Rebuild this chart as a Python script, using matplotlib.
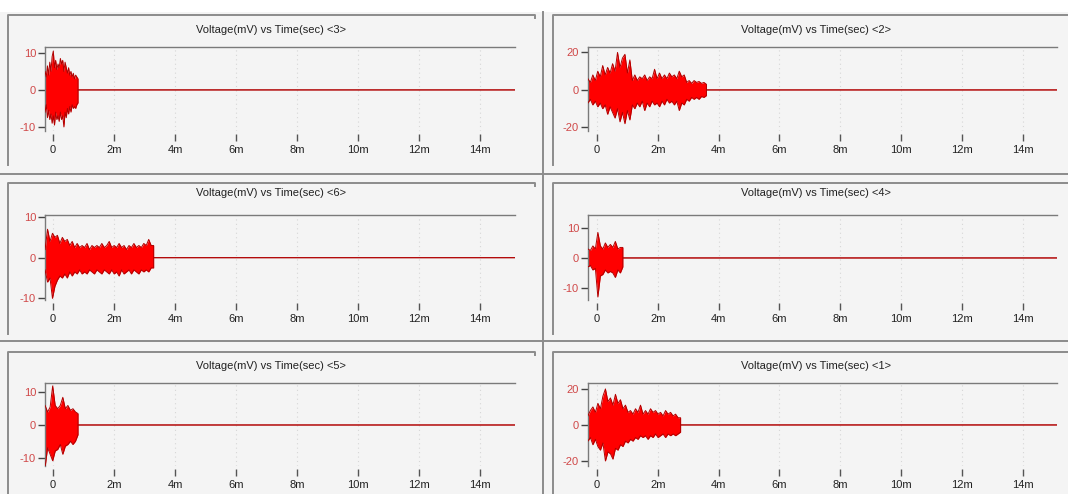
import numpy as np
import matplotlib
matplotlib.use("Agg")
import matplotlib.pyplot as plt

plt.rcParams['font.family'] = ['Liberation Sans', 'DejaVu Sans']
plt.rcParams['axes.unicode_minus'] = False

# ---------------- data ----------------
titles = ["Voltage(mV) vs Time(sec) <3>", "Voltage(mV) vs Time(sec) <2>",
          "Voltage(mV) vs Time(sec) <6>", "Voltage(mV) vs Time(sec) <4>",
          "Voltage(mV) vs Time(sec) <5>", "Voltage(mV) vs Time(sec) <1>"]

x_ticks = [0, 2, 4, 6, 8, 10, 12, 14]                 # ms
x_tick_labels = ["0", "2m", "4m", "6m", "8m", "10m", "12m", "14m"]
record_end = 15.2                                      # ms, trace continues at 0

# burst start / end (ms) and upper / lower envelope samples (mV)
burst_3 = (-0.26, 0.82)
up_3 = [5, 3.5, 6.5, 4, 7.5, 5, 9, 10.5, 6, 8, 5.5, 7, 6, 8.5, 7, 8, 5, 7.5, 6, 4.5,
        6, 4, 5, 3.5, 4.5, 3, 4, 3.5, 3]
lo_3 = [-6, -4, -7.5, -5.5, -8, -6.5, -9, -7, -9.5, -6, -8, -7, -8.5, -6, -8, -7, -10, -6, -7.5, -5,
        -6.5, -4.5, -6, -4, -5, -4.5, -5, -4, -3.5]

burst_2 = (-0.30, 3.60)
up_2 = [6, 4, 8, 5, 10, 7, 13, 8, 12, 9, 14, 10, 20, 12, 17, 19, 9, 16, 5, 8,
        5, 7, 6, 8, 5, 7, 6, 11, 6, 9, 6, 8, 6, 9, 7, 8, 6, 10, 7, 8,
        4, 5, 3.5, 5, 4, 4.5, 3.5, 4, 3]
lo_2 = [-7, -5, -8, -6, -9, -7, -10, -8, -13, -9, -12, -15, -10, -17, -12, -18, -11, -16, -8, -10,
        -7, -9, -6, -11, -7, -9, -6, -8, -7, -9, -6, -8, -5, -7, -6, -8, -6, -11, -7, -8,
        -5, -6, -4, -5, -4, -5, -3.5, -4, -3]

burst_6 = (-0.26, 3.30)
up_6 = [2, 7, 4, 6, 5, 5.5, 3.5, 5, 4, 4.5, 3, 4, 2.5, 3.5, 2.5, 3, 2.5, 3.5, 2, 3,
        2.5, 3, 2.5, 3.5, 2.5, 3, 4, 2.5, 3, 2.5, 3.5, 2.5, 3, 2, 3, 2.5, 3.5, 2.5, 3, 2.5,
        3.5, 3, 4.5, 3, 3]
lo_6 = [-3, -6, -5, -10, -7, -5.5, -4.5, -5, -4, -5, -3.5, -4.5, -3.5, -4, -3, -4, -3.5, -4, -3, -3.5,
        -4, -3, -3.5, -4, -3, -3.5, -4, -3, -4, -3.5, -4.5, -3, -4, -3.5, -3, -4, -3, -3.5, -4, -3,
        -3.5, -3, -3.5, -2.5, -2.5]

burst_4 = (-0.30, 0.85)
up_4 = [3, 2.5, 4, 3, 8.5, 4, 3, 5, 3.5, 4.5, 3.5, 5.5, 3, 3.5, 3.5]
lo_4 = [-3, -2.5, -4, -3.5, -13, -6, -5.5, -4, -5, -4.5, -5, -6.5, -4, -5, -3]

burst_5 = (-0.26, 0.82)
up_5 = [6, 4, 5.5, 12, 6, 5, 6, 8.5, 5, 6, 4.5, 5, 4, 3.5]
lo_5 = [-13, -7, -9, -11, -8, -7.5, -6, -9, -6.5, -6, -5, -6, -5, -3]

burst_1 = (-0.30, 2.75)
up_1 = [5, 8, 10, 7, 12, 9, 16, 20, 13, 15, 11, 17, 12, 14, 9, 11, 7, 8, 6, 9,
        7, 11, 6, 8, 6, 9, 7, 8, 6, 7, 5, 8, 6, 7, 5, 6, 4, 4]
lo_1 = [-9, -7, -11, -8, -12, -14, -10, -20, -15, -16, -19, -13, -14, -11, -12, -9, -10, -8, -9, -7,
        -8, -6, -7, -6, -8, -6, -7, -5, -7, -6, -5, -7, -5, -6, -5, -6, -5, -4]

y_ticks_10 = [10, 0, -10]
y_labels_10 = ["10", "0", "-10"]
y_ticks_20 = [20, 0, -20]
y_labels_20 = ["20", "0", "-20"]

# ---------------- layout (pixels) ----------------
W, H = 1068, 494
fig = plt.figure(figsize=(W / 100, H / 100), dpi=100)
fig.patch.set_facecolor('#f4f4f4')

bg = fig.add_axes([0, 0, 1, 1], zorder=0)
bg.set_xlim(0, W)
bg.set_ylim(H, 0)
bg.axis('off')
bg.axhspan(0, 12, color='white', lw=0)

frame_c = '#8c8c8c'
lw_frame = 1.4
# dividers
bg.plot([543, 543], [12, H], color=frame_c, lw=lw_frame)
bg.plot([0, W], [174, 174], color=frame_c, lw=lw_frame)
bg.plot([0, W], [341, 341], color=frame_c, lw=lw_frame)
# panel frames
row_frames = [(15, 165), (183, 334), (352, H)]
for top, bot in row_frames:
    bg.plot([8, 8, 535, 535], [bot, top, top, top + 3], color=frame_c, lw=lw_frame)
    bg.plot([553, 553, W], [bot, top, top], color=frame_c, lw=lw_frame)

col_px = [(45, 515, 53, 30.5), (588, 1057, 597, 30.4)]     # left, right, x0 px, px per ms
row_px = [(47, 131), (215, 300), (383, 466)]
title_y = [30, 193, 366]
title_x = [271, 816]

panels = [
    (burst_3, up_3, lo_3, (-11.1, 11.6), y_ticks_10, y_labels_10),
    (burst_2, up_2, lo_2, (-21.9, 22.9), y_ticks_20, y_labels_20),
    (burst_6, up_6, lo_6, (-10.4, 10.5), y_ticks_10, y_labels_10),
    (burst_4, up_4, lo_4, (-14.0, 14.3), y_ticks_10, y_labels_10),
    (burst_5, up_5, lo_5, (-12.6, 12.9), y_ticks_10, y_labels_10),
    (burst_1, up_1, lo_1, (-22.8, 23.3), y_ticks_20, y_labels_20),
]

spine_c = '#7a7a7a'
for i, (burst, up, lo, ylim, yt, yl) in enumerate(panels):
    r, c = divmod(i, 2)
    left, right, x0, ppm = col_px[c]
    top, bot = row_px[r]
    ax = fig.add_axes([left / W, 1 - bot / H, (right - left) / W, (bot - top) / H], zorder=2)
    ax.set_facecolor('none')
    ax.set_xlim((left - x0) / ppm, (right - x0) / ppm)
    ax.set_ylim(*ylim)

    for xt in x_ticks:
        ax.axvline(xt, color='#d6d6d6', lw=0.8, ls=(0, (1, 3)), zorder=0)

    t = np.linspace(burst[0], burst[1], len(up))
    t_full = np.concatenate([t, [burst[1], record_end]])
    up_full = np.concatenate([up, [0, 0]])
    lo_full = np.concatenate([lo, [0, 0]])
    ax.fill_between(t_full, lo_full, up_full, color='#ff0000', lw=0, zorder=2)
    ax.plot(t_full, up_full, color='#b00000', lw=0.7, zorder=3)
    ax.plot(t_full, lo_full, color='#b00000', lw=0.7, zorder=3)

    for s in ['right', 'bottom']:
        ax.spines[s].set_visible(False)
    for s in ['left', 'top']:
        ax.spines[s].set_color(spine_c)
        ax.spines[s].set_linewidth(1.0)
    ax.spines['bottom'].set_position(('outward', 2))

    ax.set_xticks(x_ticks)
    ax.set_xticklabels(x_tick_labels)
    ax.set_yticks(yt)
    ax.set_yticklabels(yl)
    ax.tick_params(axis='x', direction='out', length=5, width=1, color='#555555',
                   labelsize=8, pad=3, labelcolor='#222222')
    ax.tick_params(axis='y', direction='out', length=5, width=1, color='#444444',
                   labelsize=8, pad=1.5, labelcolor='#d04848')

    bg.text(title_x[c], title_y[r], titles[i], ha='center', va='center',
            fontsize=8, color='#222222')

fig.savefig('out.png', dpi=100, facecolor=fig.get_facecolor())
